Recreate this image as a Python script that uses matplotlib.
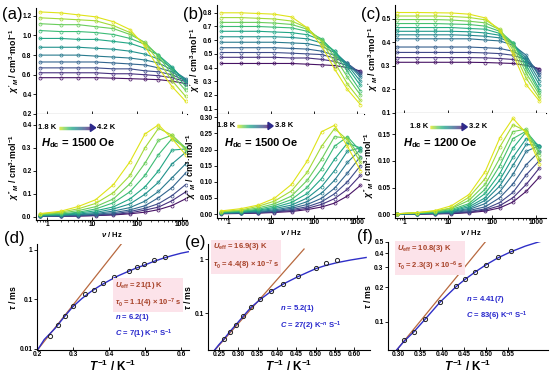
import numpy as np
import matplotlib
matplotlib.use("Agg")
import matplotlib.pyplot as plt
from matplotlib.patches import Polygon
from matplotlib.ticker import LogLocator, NullFormatter, NullLocator

plt.rcParams['font.family'] = ['Liberation Sans', 'DejaVu Sans']
plt.rcParams['font.weight'] = 'bold'
plt.rcParams['axes.labelweight'] = 'bold'
plt.rcParams['mathtext.fontset'] = 'custom'
plt.rcParams['mathtext.rm'] = 'Liberation Sans:bold'
plt.rcParams['mathtext.it'] = 'Liberation Sans:italic:bold'
plt.rcParams['mathtext.bf'] = 'Liberation Sans:bold'
plt.rcParams['axes.linewidth'] = 0.8

# ac frequencies (Hz) where the curves were read
freq = [0.7, 2, 5, 12, 30, 70, 150, 300, 600, 1200]

# (a) 1.8 K -> 4.2 K, Hdc = 1500 Oe
a_chi1 = [
    [1.24, 1.23, 1.21, 1.19, 1.14, 1.06, 0.89, 0.67, 0.48, 0.33],
    [1.18, 1.17, 1.16, 1.15, 1.10, 1.03, 0.92, 0.74, 0.54, 0.38],
    [1.12, 1.11, 1.11, 1.09, 1.07, 1.01, 0.93, 0.79, 0.60, 0.44],
    [1.05, 1.04, 1.04, 1.03, 1.01, 0.97, 0.91, 0.80, 0.65, 0.48],
    [0.97, 0.97, 0.96, 0.96, 0.94, 0.92, 0.87, 0.80, 0.68, 0.52],
    [0.88, 0.88, 0.88, 0.87, 0.86, 0.84, 0.81, 0.76, 0.67, 0.54],
    [0.80, 0.80, 0.80, 0.79, 0.78, 0.77, 0.75, 0.72, 0.65, 0.56],
    [0.73, 0.73, 0.73, 0.73, 0.72, 0.71, 0.70, 0.67, 0.63, 0.55],
    [0.67, 0.67, 0.67, 0.67, 0.66, 0.66, 0.64, 0.63, 0.60, 0.54],
    [0.62, 0.62, 0.62, 0.62, 0.61, 0.61, 0.60, 0.59, 0.57, 0.53],
    [0.57, 0.57, 0.57, 0.57, 0.565, 0.56, 0.555, 0.55, 0.535, 0.51],
]
a_chi2 = [
    [0.014, 0.024, 0.045, 0.074, 0.14, 0.24, 0.36, 0.40, 0.34, 0.27],
    [0.012, 0.020, 0.035, 0.058, 0.105, 0.18, 0.30, 0.385, 0.355, 0.29],
    [0.010, 0.016, 0.027, 0.044, 0.078, 0.144, 0.233, 0.333, 0.355, 0.30],
    [0.008, 0.012, 0.020, 0.034, 0.061, 0.109, 0.18, 0.27, 0.34, 0.30],
    [0.006, 0.010, 0.016, 0.026, 0.043, 0.078, 0.13, 0.20, 0.29, 0.295],
    [0.005, 0.008, 0.012, 0.019, 0.034, 0.056, 0.098, 0.15, 0.23, 0.28],
    [0.004, 0.006, 0.009, 0.014, 0.025, 0.040, 0.068, 0.11, 0.17, 0.23],
    [0.003, 0.004, 0.007, 0.011, 0.018, 0.030, 0.048, 0.083, 0.127, 0.19],
    [0.002, 0.003, 0.005, 0.008, 0.013, 0.023, 0.037, 0.057, 0.092, 0.14],
    [0.002, 0.003, 0.004, 0.006, 0.010, 0.017, 0.029, 0.042, 0.070, 0.108],
    [0.002, 0.002, 0.003, 0.005, 0.008, 0.013, 0.020, 0.031, 0.049, 0.078],
]

# (b) 1.8 K -> 3.8 K, Hdc = 1500 Oe
b_chi1 = [
    [0.80, 0.80, 0.795, 0.79, 0.77, 0.69, 0.56, 0.39, 0.24, 0.13],
    [0.765, 0.765, 0.76, 0.755, 0.74, 0.69, 0.59, 0.44, 0.28, 0.16],
    [0.73, 0.73, 0.73, 0.725, 0.715, 0.68, 0.60, 0.48, 0.33, 0.20],
    [0.70, 0.70, 0.70, 0.695, 0.69, 0.665, 0.61, 0.51, 0.37, 0.23],
    [0.665, 0.665, 0.665, 0.66, 0.655, 0.64, 0.60, 0.52, 0.40, 0.27],
    [0.625, 0.625, 0.625, 0.625, 0.62, 0.61, 0.58, 0.52, 0.42, 0.30],
    [0.585, 0.585, 0.585, 0.585, 0.58, 0.575, 0.555, 0.51, 0.43, 0.33],
    [0.545, 0.545, 0.545, 0.545, 0.54, 0.535, 0.52, 0.49, 0.43, 0.345],
    [0.51, 0.51, 0.51, 0.51, 0.505, 0.50, 0.495, 0.47, 0.43, 0.36],
    [0.475, 0.475, 0.475, 0.475, 0.47, 0.47, 0.46, 0.445, 0.415, 0.365],
    [0.43, 0.43, 0.43, 0.43, 0.43, 0.425, 0.42, 0.415, 0.40, 0.375],
]
b_chi2 = [
    [0.010, 0.017, 0.028, 0.049, 0.092, 0.165, 0.255, 0.275, 0.21, 0.135],
    [0.008, 0.013, 0.024, 0.040, 0.072, 0.13, 0.21, 0.265, 0.23, 0.16],
    [0.007, 0.011, 0.019, 0.032, 0.056, 0.105, 0.17, 0.24, 0.235, 0.175],
    [0.006, 0.009, 0.015, 0.026, 0.045, 0.083, 0.14, 0.21, 0.24, 0.195],
    [0.005, 0.008, 0.012, 0.021, 0.036, 0.064, 0.11, 0.17, 0.22, 0.205],
    [0.004, 0.006, 0.010, 0.017, 0.028, 0.050, 0.085, 0.135, 0.195, 0.205],
    [0.003, 0.005, 0.008, 0.013, 0.022, 0.039, 0.065, 0.105, 0.16, 0.20],
    [0.002, 0.004, 0.006, 0.010, 0.018, 0.030, 0.049, 0.080, 0.127, 0.178],
    [0.002, 0.004, 0.005, 0.008, 0.014, 0.023, 0.038, 0.063, 0.10, 0.15],
    [0.002, 0.003, 0.004, 0.007, 0.011, 0.018, 0.030, 0.048, 0.077, 0.12],
    [0.001, 0.002, 0.003, 0.005, 0.008, 0.014, 0.022, 0.034, 0.056, 0.089],
]

# (c) 1.8 K -> 3.2 K, Hdc = 1200 Oe
c_chi1 = [
    [0.527, 0.527, 0.526, 0.525, 0.52, 0.504, 0.45, 0.35, 0.22, 0.15],
    [0.512, 0.512, 0.512, 0.51, 0.506, 0.496, 0.456, 0.367, 0.247, 0.162],
    [0.497, 0.497, 0.497, 0.495, 0.49, 0.483, 0.454, 0.385, 0.269, 0.176],
    [0.48, 0.48, 0.48, 0.478, 0.476, 0.469, 0.447, 0.399, 0.288, 0.188],
    [0.463, 0.463, 0.463, 0.463, 0.459, 0.456, 0.438, 0.396, 0.304, 0.198],
    [0.447, 0.447, 0.447, 0.447, 0.445, 0.44, 0.43, 0.396, 0.319, 0.218],
    [0.432, 0.432, 0.432, 0.432, 0.43, 0.426, 0.419, 0.395, 0.332, 0.236],
    [0.415, 0.415, 0.415, 0.415, 0.415, 0.41, 0.406, 0.388, 0.345, 0.253],
    [0.38, 0.38, 0.38, 0.38, 0.38, 0.377, 0.374, 0.362, 0.329, 0.264],
    [0.357, 0.357, 0.357, 0.357, 0.357, 0.355, 0.352, 0.345, 0.327, 0.275],
    [0.335, 0.335, 0.335, 0.335, 0.335, 0.334, 0.331, 0.327, 0.315, 0.281],
    [0.315, 0.315, 0.315, 0.315, 0.315, 0.314, 0.312, 0.31, 0.302, 0.288],
]
c_chi2 = [
    [0.001, 0.003, 0.007, 0.016, 0.037, 0.080, 0.143, 0.18, 0.152, 0.095],
    [0.001, 0.003, 0.006, 0.012, 0.032, 0.067, 0.126, 0.168, 0.156, 0.103],
    [0.001, 0.003, 0.005, 0.011, 0.026, 0.056, 0.105, 0.155, 0.16, 0.112],
    [0.001, 0.002, 0.004, 0.009, 0.020, 0.047, 0.091, 0.142, 0.156, 0.117],
    [0.001, 0.002, 0.003, 0.007, 0.017, 0.039, 0.076, 0.124, 0.155, 0.126],
    [0.001, 0.001, 0.003, 0.006, 0.014, 0.031, 0.064, 0.107, 0.142, 0.129],
    [0.001, 0.001, 0.003, 0.005, 0.011, 0.026, 0.053, 0.092, 0.131, 0.129],
    [0.000, 0.001, 0.002, 0.004, 0.009, 0.020, 0.042, 0.075, 0.118, 0.129],
    [0.000, 0.001, 0.002, 0.003, 0.007, 0.014, 0.031, 0.057, 0.093, 0.118],
    [0.000, 0.001, 0.001, 0.002, 0.005, 0.010, 0.022, 0.041, 0.074, 0.101],
    [0.000, 0.000, 0.001, 0.002, 0.004, 0.008, 0.016, 0.031, 0.056, 0.087],
    [0.000, 0.000, 0.001, 0.001, 0.003, 0.006, 0.012, 0.023, 0.043, 0.070],
]

# relaxation times: tau (ms) vs 1/T (K^-1)
d_invT = [0.236, 0.257, 0.277, 0.301, 0.334, 0.359, 0.384, 0.415, 0.455, 0.477, 0.498, 0.526, 0.554]
d_tau = [0.0183, 0.0305, 0.0464, 0.075, 0.127, 0.153, 0.212, 0.28, 0.38, 0.45, 0.51, 0.63, 0.73]
d_fit_x = [0.20, 0.22, 0.25, 0.275, 0.30, 0.325, 0.35, 0.375, 0.40, 0.425, 0.45, 0.475, 0.50, 0.525, 0.55, 0.575, 0.60, 0.62]
d_fit_tau = [0.0092, 0.0155, 0.026, 0.044, 0.072, 0.105, 0.145, 0.19, 0.24, 0.30, 0.36, 0.43, 0.50, 0.59, 0.68, 0.77, 0.86, 0.92]
d_orb_x = [0.20, 0.44]
d_orb_tau = [0.0093, 1.5]

e_invT = [0.263, 0.278, 0.294, 0.3125, 0.333, 0.357, 0.385, 0.417, 0.455, 0.50, 0.526, 0.556]
e_tau = [0.033, 0.046, 0.060, 0.089, 0.129, 0.184, 0.259, 0.344, 0.491, 0.70, 0.84, 0.97]
e_fit_x = [0.235, 0.25, 0.263, 0.278, 0.294, 0.3125, 0.333, 0.357, 0.385, 0.417, 0.455, 0.50, 0.526, 0.556, 0.59, 0.63]
e_fit_tau = [0.019, 0.026, 0.033, 0.045, 0.061, 0.087, 0.128, 0.18, 0.255, 0.35, 0.48, 0.67, 0.77, 0.87, 0.97, 1.08]
e_orb_x = [0.2405, 0.47]
e_orb_tau = [0.021, 1.55]

f_invT = [0.312, 0.336, 0.362, 0.395, 0.432, 0.453, 0.475, 0.50, 0.527, 0.557]
f_tau = [0.069, 0.082, 0.105, 0.15, 0.206, 0.237, 0.273, 0.316, 0.366, 0.42]
f_fit_x = [0.296, 0.3125, 0.336, 0.362, 0.395, 0.432, 0.453, 0.475, 0.50, 0.527, 0.557, 0.59, 0.62, 0.645]
f_fit_tau = [0.0564, 0.067, 0.082, 0.106, 0.148, 0.203, 0.236, 0.272, 0.315, 0.362, 0.41, 0.46, 0.50, 0.53]
f_orb_x = [0.296, 0.52]
f_orb_tau = [0.0564, 0.63]

RED = '#b8693f'
RED_TXT = '#a8432a'
BLUE = '#2f2fc8'
BLUE_TXT = '#2626cc'
PINK = '#fce3ea'


def px(l, t, r, b):
    return [l / 550, 1 - b / 376, (r - l) / 550, (b - t) / 376]


def style(ax):
    ax.spines['top'].set_visible(False)
    ax.spines['right'].set_visible(False)
    ax.tick_params(labelsize=4.8, width=0.6, length=2.2, pad=1)
    ax.tick_params(axis='x', direction='in')
    ax.tick_params(which='minor', length=1.3, width=0.5)


def grad_arrow(ax, x0, x1, y, t0, t1):
    n = 40
    xs = np.linspace(x0, x1, n + 1)
    cols = plt.cm.viridis(np.linspace(0.95, 0.08, n))
    for i in range(n):
        ax.plot([xs[i], xs[i + 1]], [y, y], color=cols[i], lw=2.4,
                solid_capstyle='butt', transform=ax.transAxes, clip_on=False)
    ax.add_patch(Polygon([[x1, y - 0.035], [x1, y + 0.035], [x1 + 0.035, y]],
                         closed=True, color='#2d2a8c', transform=ax.transAxes, clip_on=False))
    ax.text(x0 - 0.015, y, t0, transform=ax.transAxes, ha='right', va='center', fontsize=5.5)
    ax.text(x1 + 0.045, y, t1, transform=ax.transAxes, ha='left', va='center', fontsize=5.5)


def ac_pair(top, bot, chi1, chi2, xlim, ylim1, ylim2, yt1, yt2, fmt2):
    cols = plt.cm.viridis(np.linspace(0.95, 0.05, len(chi1)))
    for k in range(len(chi1) - 1, -1, -1):
        top.plot(freq, chi1[k], '-o', color=cols[k], lw=0.8, ms=2.2, mfc='none', mew=0.5)
        bot.plot(freq, chi2[k], '-o', color=cols[k], lw=0.8, ms=2.2, mfc='none', mew=0.5)
    for ax in (top, bot):
        ax.set_xscale('log')
        ax.set_xlim(*xlim)
        ax.set_xticks([1, 10, 100, 1000], ['1', '10', '100', '1000'])
        ax.xaxis.set_minor_locator(LogLocator(subs=np.arange(2, 10), numticks=20))
        ax.xaxis.set_minor_formatter(NullFormatter())
        style(ax)
    top.tick_params(axis='x', which='both', labelbottom=False)
    top.set_ylim(*ylim1)
    top.set_yticks(yt1, ['%.1f' % v for v in yt1])
    bot.set_ylim(*ylim2)
    bot.set_yticks(yt2, [fmt2 % v for v in yt2])
    top.set_ylabel(r"$\chi'_M$ / cm$^3$·mol$^{-1}$", fontsize=6.3, labelpad=1)
    bot.set_ylabel(r"$\chi''_M$ / cm$^3$·mol$^{-1}$", fontsize=6.3, labelpad=1)
    bot.set_xlabel(r'$\nu$ / Hz', fontsize=5.5, labelpad=1)


def tau_panel(ax, invT, tau, fx, ftau, ox, otau, xlim, ylim, xt, xfmt, yt, ytl):
    ax.plot(ox, otau, color=RED, lw=0.9)
    ax.plot(fx, ftau, color=BLUE, lw=1.0)
    ax.plot(invT, tau, 'o', mfc='none', mec='#222222', ms=3.0, mew=0.7)
    ax.set_yscale('log')
    ax.set_xlim(*xlim)
    ax.set_ylim(*ylim)
    ax.set_xticks(xt, [xfmt % v for v in xt])
    ax.set_yticks(yt, ytl)
    ax.yaxis.set_minor_locator(NullLocator())
    style(ax)
    ax.set_xlabel(r'$T^{-1}$ / K$^{-1}$', fontsize=8.5, labelpad=0)
    ax.set_ylabel(r'$\tau$ / ms', fontsize=6.3, labelpad=1)


fig = plt.figure(figsize=(5.5, 3.76), dpi=100)

axA1 = fig.add_axes(px(36, 8, 187, 114))
axA2 = fig.add_axes(px(36, 114, 187, 220))
axB1 = fig.add_axes(px(217, 5, 364, 114))
axB2 = fig.add_axes(px(217, 114, 364, 218))
axC1 = fig.add_axes(px(395, 5, 546, 113))
axC2 = fig.add_axes(px(395, 113, 546, 218))

ac_pair(axA1, axA2, a_chi1, a_chi2, (0.57, 1290), (0.2, 1.28), (-0.014, 0.447),
        [0.2, 0.4, 0.6, 0.8, 1.0, 1.2], [0.0, 0.1, 0.2, 0.3, 0.4], '%.1f')
ac_pair(axB1, axB2, b_chi1, b_chi2, (0.555, 1455), (0.061, 0.857), (-0.012, 0.31),
        [0.1, 0.2, 0.3, 0.4, 0.5, 0.6, 0.7, 0.8], [0.0, 0.05, 0.10, 0.15, 0.20, 0.25, 0.30], '%.2f')
ac_pair(axC1, axC2, c_chi1, c_chi2, (0.624, 1690), (0.099, 0.559), (-0.007, 0.19),
        [0.1, 0.2, 0.3, 0.4, 0.5], [0.0, 0.05, 0.10, 0.15], '%.2f')

grad_arrow(axA2, 0.15, 0.36, 0.87, '1.8 K', '4.2 K')
grad_arrow(axB2, 0.136, 0.347, 0.885, '1.8 K', '3.8 K')
grad_arrow(axC2, 0.232, 0.444, 0.867, '1.8 K', '3.2 K')
axA2.text(0.03, 0.73, r'$H_{\rm dc}$ = 1500 Oe', transform=axA2.transAxes, fontsize=8, va='center')
axB2.text(0.05, 0.72, r'$H_{\rm dc}$ = 1500 Oe', transform=axB2.transAxes, fontsize=8, va='center')
axC2.text(0.055, 0.714, r'$H_{\rm dc}$ = 1200 Oe', transform=axC2.transAxes, fontsize=8, va='center')

axD = fig.add_axes(px(37, 244, 189, 350))
axE = fig.add_axes(px(208, 244, 370, 350))
axF = fig.add_axes(px(388, 242, 548, 350))

tau_panel(axD, d_invT, d_tau, d_fit_x, d_fit_tau, d_orb_x, d_orb_tau, (0.2, 0.622), (0.00954, 1.32),
          [0.2, 0.3, 0.4, 0.5, 0.6], '%.1f', [0.01, 0.1, 1], ['0.01', '0.1', '1'])
tau_panel(axE, e_invT, e_tau, e_fit_x, e_fit_tau, e_orb_x, e_orb_tau, (0.2224, 0.64), (0.0209, 1.92),
          [0.25, 0.30, 0.35, 0.40, 0.45, 0.50, 0.55, 0.60], '%.2f', [0.1, 1], ['0.1', '1'])
tau_panel(axF, f_invT, f_tau, f_fit_x, f_fit_tau, f_orb_x, f_orb_tau, (0.2764, 0.642), (0.0565, 0.50),
          [0.30, 0.35, 0.40, 0.45, 0.50, 0.55], '%.2f', [0.1, 0.2, 0.3, 0.4, 0.5],
          ['0.1', '0.2', '0.3', '0.4', '0.5'])

notes = [
    (axD, 0.513, 0.52, '21(1)', '1.1(4)', '-7', 0.513, 0.22, '6.2(1)', '7(1)'),
    (axE, 0.031, 0.88, '16.9(3)', '4.4(8)', '-7', 0.444, 0.30, '5.2(1)', '27(2)'),
    (axF, 0.056, 0.85, '10.8(3)', '2.3(3)', '-6', 0.4875, 0.385, '4.41(7)', '83(6)'),
]
for ax, x1, y1, u, t0, ex, x2, y2, n, c in notes:
    ax.text(x1, y1, r'$U_{\rm eff}$ = %s K' % u + '\n' + r'$\tau_0$ = %s × 10$^{%s}$ s' % (t0, ex),
            transform=ax.transAxes, fontsize=5.5, color=RED_TXT, va='center', ha='left',
            linespacing=1.7, bbox=dict(facecolor=PINK, edgecolor='none', pad=1.5))
    ax.text(x2, y2, r'$n$ = %s' % n + '\n' + r'$C$ = %s K$^{-n}$ S$^{-1}$' % c,
            transform=ax.transAxes, fontsize=5.5, color=BLUE_TXT, va='center', ha='left',
            linespacing=1.6)

for lab, x, y in [('(a)', 2, 15), ('(b)', 183, 15), ('(c)', 361, 15),
                  ('(d)', 4, 238), ('(e)', 185, 243), ('(f)', 357, 236)]:
    fig.text(x / 550, 1 - y / 376, lab, fontsize=12, fontweight='normal', va='center', ha='left')

fig.savefig('out.png', dpi=100)
